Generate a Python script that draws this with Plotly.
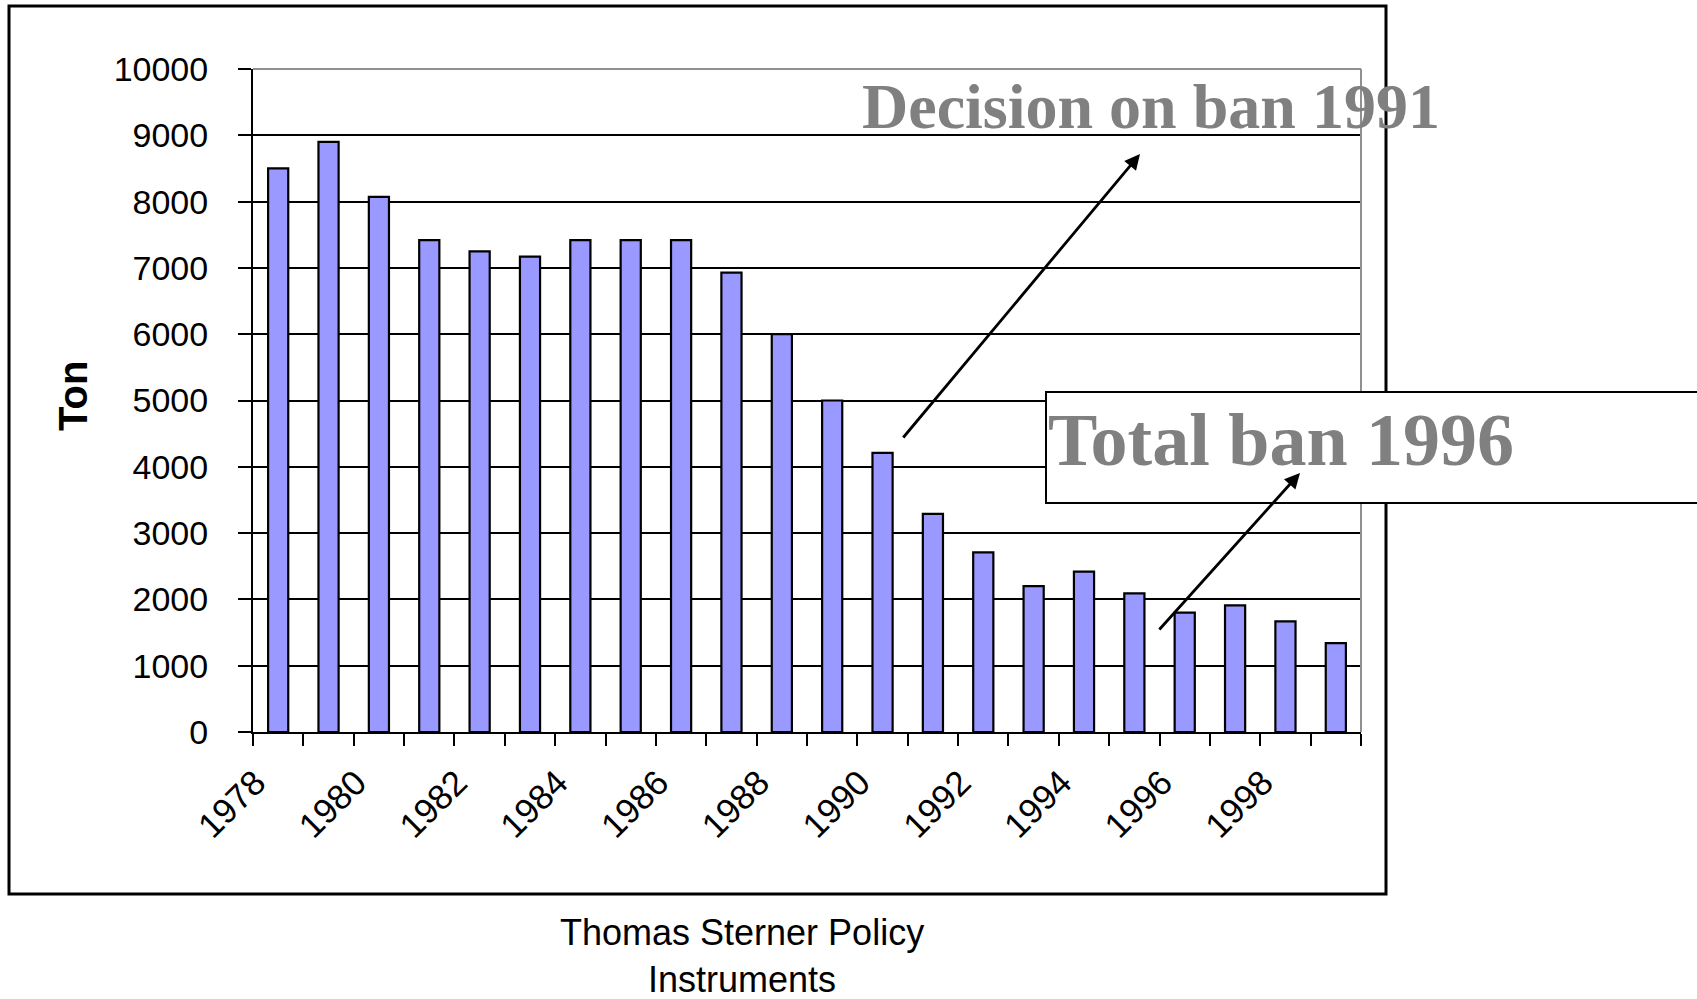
import plotly.graph_objects as go

# ---- data ----
years = list(range(1978, 2000))
tons = [8500, 8900, 8070, 7420, 7250, 7170, 7420, 7420, 7420, 6930, 6000,
        5000, 4210, 3290, 2710, 2200, 2420, 2090, 1800, 1910, 1670, 1340]
label_years = list(range(1978, 1999, 2))
label_text = [str(y) for y in label_years]
y_ticks = list(range(0, 10001, 1000))
y_tick_text = [str(v) for v in y_ticks]
y_title = "Ton"
caption = "Thomas Sterner Policy<br>Instruments"
note1 = "Decision on ban 1991"
note2 = "Total ban 1996"

W, H = 1697, 999
L, R, T, B = 253, 1361, 69, 732  # plot area in px
PW, PH = R - L, B - T


def px(x):
    return (x - L) / PW


def py(y):
    return (B - y) / PH


fig = go.Figure()
fig.add_trace(go.Bar(
    x=years, y=tons,
    marker=dict(color="#9999FF", line=dict(color="black", width=2.2)),
    showlegend=False, hoverinfo="x+y",
))

fig.update_layout(
    width=W, height=H,
    margin=dict(l=L, r=W - R, t=T, b=H - B, pad=0),
    paper_bgcolor="white", plot_bgcolor="white",
    bargap=0.6,
    font=dict(family="Liberation Sans, Arial", color="black"),
)

# rotated year labels sit to the left of their bar, as in the original
label_pos = [y - 0.45 for y in label_years]

fig.update_xaxes(
    range=[1977.5, 1999.5],
    tickmode="array", tickvals=label_pos, ticktext=label_text,
    tickangle=-45,
    ticks="outside", ticklen=14, tickcolor="rgba(0,0,0,0)", tickwidth=2,
    tickfont=dict(size=35, family="Liberation Sans, Arial", color="black"),
    minor=dict(tick0=1977.5, dtick=1, ticks="outside", ticklen=12,
               tickwidth=2, tickcolor="black", showgrid=False),
    showline=True, linecolor="black", linewidth=2,
    showgrid=False, zeroline=False,
)

fig.update_yaxes(
    range=[0, 10000],
    tickmode="array", tickvals=y_ticks, ticktext=y_tick_text,
    ticks="outside", ticklen=13, tickwidth=2, tickcolor="black",
    tickfont=dict(size=34, family="Liberation Sans, Arial", color="black"),
    ticklabelstandoff=23,
    showline=True, linecolor="black", linewidth=2,
    showgrid=True, gridcolor="black", gridwidth=2,
    zeroline=False,
)

shapes = [
    # outer frame
    dict(type="rect", xref="paper", yref="paper",
         x0=px(9), x1=px(1386), y0=py(894), y1=py(6),
         line=dict(color="black", width=3), fillcolor="rgba(0,0,0,0)", layer="above"),
    # grey top and right border of the plot area
    dict(type="line", xref="paper", yref="paper", x0=0, x1=1, y0=1, y1=1,
         line=dict(color="#909090", width=2), layer="above"),
    dict(type="line", xref="paper", yref="paper", x0=1, x1=1, y0=0, y1=1,
         line=dict(color="#909090", width=2), layer="above"),
    # box for "Total ban 1996"
    dict(type="rect", xref="paper", yref="paper",
         x0=px(1046), x1=px(1710), y0=py(503), y1=py(392),
         line=dict(color="black", width=2), fillcolor="white", layer="above"),
]
fig.update_layout(shapes=shapes)

annotations = [
    dict(xref="paper", yref="paper", x=px(73), y=py(396), text=y_title,
         textangle=-90, showarrow=False, xanchor="center", yanchor="middle",
         font=dict(size=40, family="Liberation Sans, Arial", color="black", weight="bold")),
    dict(xref="paper", yref="paper", x=px(742), y=py(956), text=caption,
         showarrow=False, xanchor="center", yanchor="middle",
         font=dict(size=36, family="Liberation Sans, Arial", color="black")),
    dict(xref="paper", yref="paper", x=px(860), y=py(106), text=note1,
         showarrow=False, xanchor="left", yanchor="middle",
         font=dict(size=64, family="Liberation Serif, Times New Roman", color="#808080", weight="bold")),
    dict(xref="paper", yref="paper", x=px(1046), y=py(440), text=note2,
         showarrow=False, xanchor="left", yanchor="middle",
         font=dict(size=74, family="Liberation Serif, Times New Roman", color="#808080", weight="bold")),
    # arrows
    dict(xref="paper", yref="paper", x=px(1140), y=py(154), text="",
         showarrow=True, ax=902 - 1140, ay=439 - 154,
         arrowhead=2, arrowsize=1.1, arrowwidth=2.8, arrowcolor="black",
         standoff=0, startstandoff=0),
    dict(xref="paper", yref="paper", x=px(1300), y=py(473), text="",
         showarrow=True, ax=1158 - 1300, ay=631 - 473,
         arrowhead=2, arrowsize=1.1, arrowwidth=2.8, arrowcolor="black",
         standoff=0, startstandoff=0),
]
fig.update_layout(annotations=annotations)

fig.write_html("out.html")
